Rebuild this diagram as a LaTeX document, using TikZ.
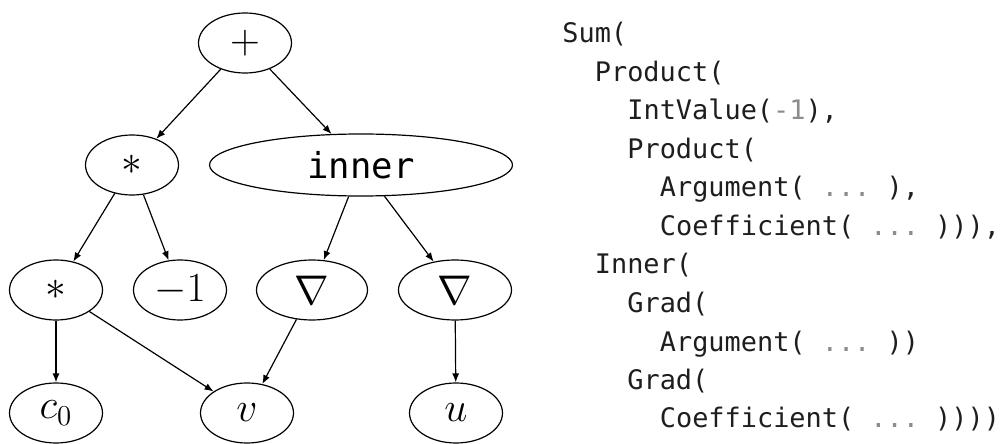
\documentclass[tikz,border=0pt]{standalone}
\usepackage{fontspec}
\usepackage{amsmath}
\usetikzlibrary{arrows.meta,shapes.geometric}
\newfontfamily\codefont{DejaVu Sans Mono}
\definecolor{codegray}{RGB}{140,140,140}
\definecolor{codeink}{RGB}{30,30,30}
\newcommand{\gdots}{\textcolor{codegray}{...}}

\begin{document}
\begin{tikzpicture}[
      x=0.5pt, y=-0.5pt,
      opnode/.style={ellipse, draw, line width=0.6pt, inner sep=0pt, minimum width=46.5pt, minimum height=30pt, font=\fontsize{20.5}{24}\selectfont},
      edge/.style={line width=0.6pt, -{Latex[length=4.5pt,width=3.5pt]}},
      codeline/.style={anchor=base west, inner sep=0pt, text=codeink, font=\codefont\fontsize{13.45}{16}\selectfont\frenchspacing}
    ]
      \useasboundingbox (0,0) rectangle (1003,444);

      % expression tree
      \node[opnode] (plus) at (245,43) {$+$};
      \node[opnode] (prodA) at (132,165) {$*$};
      \node[opnode, minimum width=151.5pt, minimum height=31pt, font=\codefont\fontsize{17.8}{20}\selectfont] (inner) at (361,165) {inner};
      \node[opnode] (prodB) at (56,290) {$*$};
      \node[opnode] (minus) at (180,290) {$-1$};
      \node[opnode, minimum width=55.5pt] (gradA) at (312,290) {$\nabla$};
      \node[opnode, minimum width=56.5pt] (gradB) at (455,290) {$\nabla$};
      \node[opnode] (coef) at (56,413) {$c_0$};
      \node[opnode] (argv) at (247,413) {$v$};
      \node[opnode] (argu) at (456,413) {$u$};

      \draw[edge] (plus) -- (prodA);
      \draw[edge] (plus) -- (inner);
      \draw[edge] (prodA) -- (prodB);
      \draw[edge] (prodA) -- (minus);
      \draw[edge] (inner) -- (gradA);
      \draw[edge] (inner) -- (gradB);
      \draw[edge] (prodB) -- (coef);
      \draw[edge] (prodB) -- (argv);
      \draw[edge] (gradA) -- (argv);
      \draw[edge] (gradB) -- (argu);

      % printed form
      \node[codeline] (l1) at (562,43) {Sum(};
      \node[codeline] (l2) at (594.5,81.5) {Product(};
      \node[codeline] (l3) at (627,120) {IntValue(\textcolor{codegray}{-1}),};
      \node[codeline] (l4) at (627,158.5) {Product(};
      \node[codeline] (l5) at (659.5,197) {Argument( \gdots{} ),};
      \node[codeline] (l6) at (659.5,235.5) {Coefficient( \gdots{} ))),};
      \node[codeline] (l7) at (594.5,274) {Inner(};
      \node[codeline] (l8) at (627,312.5) {Grad(};
      \node[codeline] (l9) at (659.5,351) {Argument( \gdots{} ))};
      \node[codeline] (l10) at (627,389.5) {Grad(};
      \node[codeline] (l11) at (659.5,428) {Coefficient( \gdots{} ))))};
    \end{tikzpicture}
\end{document}
